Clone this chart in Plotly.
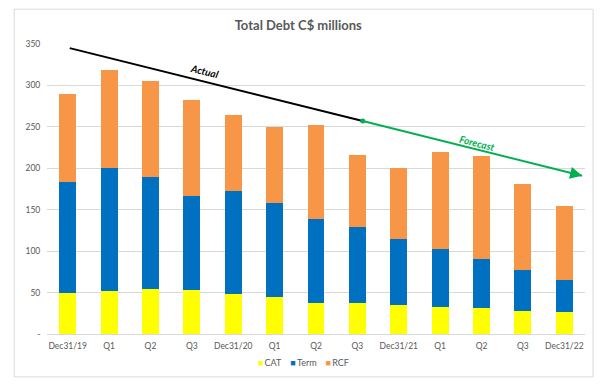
import plotly.graph_objects as go

categories = ["Dec31/19", "Q1", "Q2", "Q3", "Dec31/20", "Q1", "Q2", "Q3",
              "Dec31/21", "Q1", "Q2", "Q3", "Dec31/22"]
cat_vals = [50, 52, 54, 53, 48, 45, 38, 38, 35, 33, 31, 28, 26]
term_vals = [134, 148, 135, 114, 124, 113, 101, 91, 80, 69, 59, 49, 39]
rcf_vals = [106, 119, 116, 115, 92, 92, 113, 87, 85, 118, 125, 104, 89]

series_names = ["CAT", "Term", "RCF"]
series_colors = ["#FFFF00", "#0070C0", "#F79646"]

actual_x = [0.05, 7.13]
actual_y = [345, 257]
forecast_x = [7.13, 12.43]
forecast_y = [257, 191]

y_tickvals = [0, 50, 100, 150, 200, 250, 300, 350]
y_ticktext = ["-", "50", "100", "150", "200", "250", "300", "350"]

xs = list(range(len(categories)))
grey = "#595959"
font_family = "Lato, Open Sans, sans-serif"

fig = go.Figure()
for name, vals, col in zip(series_names, [cat_vals, term_vals, rcf_vals], series_colors):
    fig.add_trace(go.Bar(x=xs, y=vals, name=name, marker=dict(color=col, line=dict(width=0)),
                         showlegend=False))

fig.add_trace(go.Scatter(x=actual_x, y=actual_y, mode="lines", line=dict(color="black", width=2),
                         showlegend=False, hoverinfo="skip"))
fig.add_trace(go.Scatter(x=forecast_x, y=forecast_y, mode="lines", line=dict(color="#00B050", width=2),
                         showlegend=False, hoverinfo="skip"))
fig.add_trace(go.Scatter(x=[forecast_x[0]], y=[forecast_y[0]], mode="markers",
                         marker=dict(color="#00B050", size=5), showlegend=False, hoverinfo="skip"))

fig.add_annotation(x=forecast_x[1], y=forecast_y[1], ax=forecast_x[1] - 0.3, ay=forecast_y[1] + 3.7,
                   xref="x", yref="y", axref="x", ayref="y", showarrow=True, arrowhead=2,
                   arrowsize=1.2, arrowwidth=2, arrowcolor="#00B050", text="")

fig.add_annotation(x=3.3, y=317, text="<b><i>Actual</i></b>", showarrow=False, textangle=14,
                   font=dict(size=10, color="black", family=font_family))
fig.add_annotation(x=9.9, y=230, text="<b><i>Forecast</i></b>", showarrow=False, textangle=14,
                   font=dict(size=10, color="#00B050", family=font_family))

# legend as text
legend_text = "\u2002\u2002".join(
    f"<span style='color:{c}'>■</span>\u2009{n}" for n, c in zip(series_names, series_colors))
fig.add_annotation(x=0.476, y=-0.097, xref="paper", yref="paper", text=legend_text, showarrow=False,
                   xanchor="center", yanchor="middle", font=dict(size=9, color=grey, family=font_family))

fig.add_shape(type="rect", xref="paper", yref="paper", x0=-0.061, x1=1.015, y0=-0.148, y1=1.12,
              line=dict(color="#D9D9D9", width=1), fillcolor="rgba(0,0,0,0)", layer="below")
# small orange marks at the right edge
for yy in [1.0, 1.14]:
    fig.add_shape(type="line", xref="paper", yref="paper", x0=1.031, x1=1.039, y0=yy, y1=yy,
                  line=dict(color="#F5A623", width=1.5))

fig.update_layout(
    barmode="stack",
    bargap=0.59,
    width=598, height=384,
    margin=dict(l=39, r=21, t=36, b=58, autoexpand=False),
    paper_bgcolor="white", plot_bgcolor="white",
    title=dict(text="<b>Total Debt C$ millions</b>", x=0.467, xref="paper", xanchor="center",
               y=0.955, yanchor="middle", font=dict(size=13, color=grey, family=font_family)),
    font=dict(family=font_family, color=grey, size=9),
    showlegend=False,
    xaxis=dict(range=[-0.5, 12.5], tickvals=xs, ticktext=categories, showgrid=False,
               showline=True, linecolor="#D9D9D9", ticks="outside", ticklen=4, tickcolor="rgba(0,0,0,0)",
               tickfont=dict(size=8.5, color=grey)),
    yaxis=dict(range=[0, 350], tickvals=y_tickvals, ticktext=y_ticktext, showgrid=True,
               gridcolor="#D9D9D9", zeroline=False, ticks="outside", ticklen=4,
               tickcolor="rgba(0,0,0,0)", tickfont=dict(size=8.5, color=grey)),
)

fig.write_html("out.html")
